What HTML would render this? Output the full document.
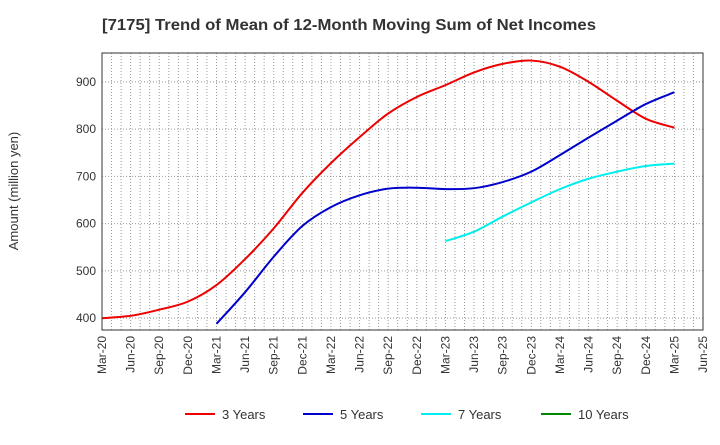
<!DOCTYPE html>
<html><head><meta charset="utf-8"><style>
body{margin:0;background:#fff;font-family:"Liberation Sans",sans-serif}
</style></head><body>
<svg id="c" width="720" height="440" xmlns="http://www.w3.org/2000/svg" font-family="Liberation Sans, sans-serif">
<text x="102" y="30" font-size="16" font-weight="bold" fill="#333" textLength="494" lengthAdjust="spacingAndGlyphs">[7175]  Trend of Mean of 12-Month Moving Sum of Net Incomes</text>
<text transform="translate(18,191) rotate(-90)" text-anchor="middle" font-size="13" fill="#333">Amount (million yen)</text>
<g id="grid"></g><g id="series"></g><g id="axes"></g><g id="legend"></g>
</svg>
<script>
const xLabels=["Mar-20","Jun-20","Sep-20","Dec-20","Mar-21","Jun-21","Sep-21","Dec-21","Mar-22","Jun-22","Sep-22","Dec-22","Mar-23","Jun-23","Sep-23","Dec-23","Mar-24","Jun-24","Sep-24","Dec-24","Mar-25","Jun-25"];
const yTicks=[400,500,600,700,800,900];
const seriesNames=["3 Years","5 Years","7 Years","10 Years"];
const seriesColors=["#e00","#00c","#0ee","#080"];
const s3=[400,405,418,435,470,525,590,665,728,783,833,868,893,920,938,945,932,900,860,822,803];
const s5=[388,455,530,595,635,660,674,676,673,675,688,710,745,782,818,853,878];
const s7=[563,583,615,645,673,695,710,722,727];
const s10=[];
const seriesStart=[0,4,12,0];
const seriesData=[s3,s5,s7,s10];
const L=102,R=703,T=53,B=330;
const yMin=375,yMax=961;
const xq=i=>L+i*(R-L)/21;
const y=v=>B-(v-yMin)/(yMax-yMin)*(B-T);
const NS="http://www.w3.org/2000/svg";
function mk(t,a,p){const e=document.createElementNS(NS,t);for(const k in a)e.setAttribute(k,a[k]);p.appendChild(e);return e;}
const g=document.getElementById('grid'),ax=document.getElementById('axes'),se=document.getElementById('series'),lg=document.getElementById('legend');
for(let m=1;m<63;m++){const x=L+m*(R-L)/63;const l=mk('line',{x1:x,x2:x,y1:T,y2:B,stroke:'#999','stroke-dasharray':'1,2','stroke-width':1},g);

}
yTicks.forEach(v=>{const l=mk('line',{x1:L,x2:R,y1:y(v),y2:y(v),stroke:'#999','stroke-dasharray':'1,2'},g);


const t=mk('text',{x:L-6,y:y(v)+4,'text-anchor':'end','font-size':12,fill:'#333'},ax);t.textContent=v;

});
const fr=mk('rect',{x:L,y:T,width:R-L,height:B-T,fill:'none',stroke:'#333'},ax);


xLabels.forEach((s,i)=>{const x=xq(i);const t=mk('text',{transform:`translate(${x+4},${B+6}) rotate(-90)`,'text-anchor':'end','font-size':12,fill:'#333'},ax);t.textContent=s;

});
function path(pts){if(pts.length<2)return'';let d=`M${pts[0][0]},${pts[0][1]}`;for(let i=0;i<pts.length-1;i++){const p0=pts[i-1]||pts[i],p1=pts[i],p2=pts[i+1],p3=pts[i+2]||p2;
d+=` C${p1[0]+(p2[0]-p0[0])/6},${p1[1]+(p2[1]-p0[1])/6} ${p2[0]-(p3[0]-p1[0])/6},${p2[1]-(p3[1]-p1[1])/6} ${p2[0]},${p2[1]}`;}return d;}
seriesData.forEach((arr,k)=>{const pts=arr.map((v,i)=>[xq(i+seriesStart[k]),y(v)]);if(pts.length<2)return;
const p=mk('path',{d:path(pts),fill:'none',stroke:seriesColors[k],'stroke-width':2},se);

});
const lx=[185,303,421,541];
seriesNames.forEach((n,k)=>{const l=mk('line',{x1:lx[k],x2:lx[k]+30,y1:414,y2:414,stroke:seriesColors[k],'stroke-width':2},lg);


const t=mk('text',{x:lx[k]+37,y:419,'font-size':13,fill:'#333'},lg);t.textContent=n;

});
</script>
</body></html>
